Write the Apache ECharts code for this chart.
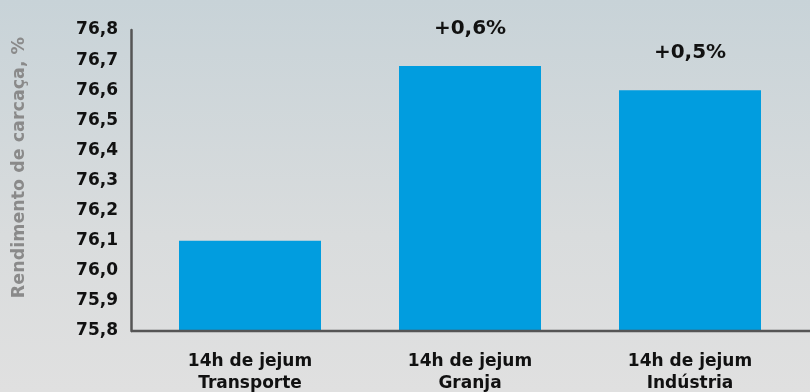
<!DOCTYPE html>
<html>
<head>
<meta charset="utf-8">
<script src="https://cdn.jsdelivr.net/npm/echarts@6/dist/echarts.min.js"></script>
<style>
  html, body { margin: 0; padding: 0; }
  #chart { width: 810px; height: 392px; }
</style>
</head>
<body>
<div id="chart"></div>
<script>
// Carcass yield by fasting location
const categories = ['14h de jejum\nTransporte', '14h de jejum\nGranja', '14h de jejum\nIndústria'];
const yieldValues = [76.1, 76.68, 76.6];
const changeLabels = ['', '+0,6%', '+0,5%'];
const yMin = 75.8;
const yMax = 76.8;
const yStep = 0.1;

const FONT = '"DejaVu Sans", "Noto Sans", sans-serif';
const chart = echarts.init(document.getElementById('chart'));

chart.setOption({
  backgroundColor: new echarts.graphic.LinearGradient(0, 0, 0, 1, [
    { offset: 0, color: '#c8d3d8' },
    { offset: 0.6, color: '#d9dcdd' },
    { offset: 1, color: '#e0e0e0' }
  ]),
  animation: false,
  grid: { left: 140, right: 10, top: 30, bottom: 61, outerBoundsMode: 'none' },
  xAxis: {
    type: 'category',
    data: categories,
    axisLine: { show: false },
    axisTick: { show: false },
    axisLabel: {
      color: '#111',
      fontFamily: FONT,
      fontWeight: 'bold',
      fontSize: 17,
      lineHeight: 22,
      margin: 20
    }
  },
  yAxis: {
    type: 'value',
    min: yMin,
    max: yMax,
    interval: yStep,
    offset: 9,
    name: 'Rendimento de carcaça, %',
    nameLocation: 'middle',
    nameRotate: 90,
    nameGap: 103,
    nameTextStyle: {
      color: '#8a8a8a',
      fontFamily: FONT,
      fontWeight: 'bold',
      fontSize: 17.5,
      padding: [0, 0, 0, 26]
    },
    axisLine: { show: true, lineStyle: { color: '#555', width: 2.5 } },
    axisTick: { show: false },
    splitLine: { show: false },
    axisLabel: {
      color: '#111',
      fontFamily: FONT,
      fontWeight: 'bold',
      fontSize: 17,
      margin: 13,
      formatter: v => v.toFixed(1).replace('.', ',')
    }
  },
  series: [{
    type: 'bar',
    data: yieldValues,
    barWidth: 142,
    itemStyle: { color: '#019ddf' },
    label: {
      show: true,
      position: 'top',
      distance: 27,
      color: '#111',
      fontFamily: FONT,
      fontWeight: 'bold',
      fontSize: 20,
      formatter: p => changeLabels[p.dataIndex]
    }
  }]
});

// Baseline running from the y axis to the right edge
const yAxisX = chart.getModel().getComponent('grid').coordinateSystem.getRect().x - 9;
const baseY = chart.convertToPixel({ yAxisIndex: 0 }, yMin);
chart.setOption({
  graphic: [{
    type: 'line',
    shape: { x1: yAxisX, y1: baseY, x2: 810, y2: baseY },
    style: { stroke: '#555', lineWidth: 2.5 },
    z: 10
  }]
});
</script>
</body>
</html>
